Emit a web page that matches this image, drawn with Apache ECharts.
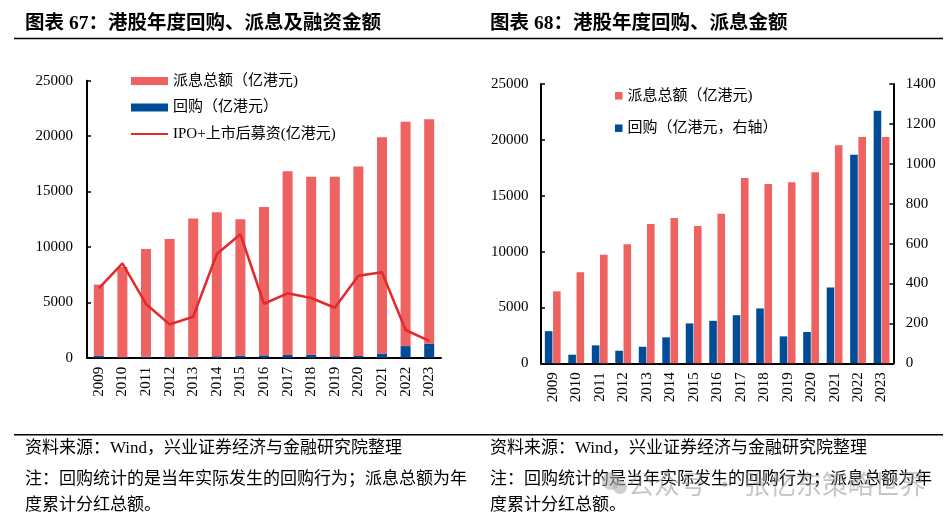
<!DOCTYPE html>
<html>
<head>
<meta charset="utf-8">
<script src="https://cdn.jsdelivr.net/npm/echarts@6/dist/echarts.min.js"></script>
<style>
html,body{margin:0;padding:0;background:#fff;}
#c{width:952px;height:523px;}
</style>
</head>
<body>
<div id="c"></div>
<script>
// ---- data ----
var years = ['2009','2010','2011','2012','2013','2014','2015','2016','2017','2018','2019','2020','2021','2022','2023'];
var dividend = [6440, 8140, 9720, 10650, 12470, 13000, 12290, 13390, 16590, 16050, 16200, 17100, 19510, 20250, 20250];
var buyback = [161, 43, 90, 63, 83, 130, 200, 213, 241, 275, 135, 157, 380, 1045, 1266];
var ipo = [6260, 8520, 4850, 3010, 3700, 9360, 11140, 4870, 5810, 5390, 4510, 7400, 7710, 2500, 1510];
var leftTicks = [0, 5000, 10000, 15000, 20000, 25000];
var rightTicks = [0, 200, 400, 600, 800, 1000, 1200, 1400];

var nameDiv = '派息总额（亿港元)';
var nameBuyL = '回购（亿港元）';
var nameIpo = 'IPO+上市后募资(亿港元)';
var nameBuyR = '回购（亿港元，右轴）';

var RED = '#EF6262', BLUE = '#004C97', LINE = '#E2292C';
var SERIF = "'Liberation Serif','Noto Sans CJK SC'";

function catAxis(gi) {
  return {
    type: 'category', gridIndex: gi, data: years,
    axisLine: {lineStyle: {color: '#000', width: 2}},
    axisTick: {show: false},
    axisLabel: {rotate: 90, color: '#000', fontSize: 15, fontFamily: SERIF, margin: 9}
  };
}
function valAxis(gi, max, interval, pos, margin) {
  return {
    type: 'value', gridIndex: gi, min: 0, max: max, interval: interval, position: pos,
    axisLine: {show: true, lineStyle: {color: '#000', width: 2}},
    axisTick: {show: true, inside: true, length: 4, lineStyle: {color: '#000', width: 1.5}},
    splitLine: {show: false},
    axisLabel: {color: '#000', fontSize: 15, fontFamily: SERIF, margin: margin,
      formatter: function (v) { return String(v); }}
  };
}

var chart = echarts.init(document.getElementById('c'), null, {renderer: 'canvas'});
var txt = function (x, y, s, opt) {
  return Object.assign({type: 'text', x: x, y: y, style: Object.assign({text: s, fill: '#000', font: '17px ' + SERIF, textVerticalAlign: 'middle'}, opt || {})});
};
chart.setOption({
  animation: false,
  backgroundColor: '#fff',
  grid: [
    {left: 87, top: 80.7, width: 354, height: 277},
    {left: 541, top: 84, width: 352.3, height: 279.3}
  ],
  xAxis: [catAxis(0), catAxis(1)],
  yAxis: [
    valAxis(0, leftTicks[leftTicks.length - 1], leftTicks[1] - leftTicks[0], 'left', 14),
    valAxis(1, leftTicks[leftTicks.length - 1], leftTicks[1] - leftTicks[0], 'left', 12.5),
    valAxis(1, rightTicks[rightTicks.length - 1], rightTicks[1] - rightTicks[0], 'right', 12.5)
  ],
  legend: [
    {
      left: 125, top: 68, orient: 'vertical', itemWidth: 37, itemHeight: 8, itemGap: 10.5,
      textStyle: {color: '#000', fontSize: 15, fontFamily: SERIF, lineHeight: 16},
      data: [{name: nameDiv, icon: 'rect'}, {name: nameBuyL, icon: 'rect'},
             {name: nameIpo, itemStyle: {opacity: 0}}]
    },
    {
      left: 610, top: 82.8, orient: 'vertical', itemWidth: 7.5, itemHeight: 7.5, itemGap: 16.4,
      textStyle: {color: '#000', fontSize: 15, fontFamily: SERIF, lineHeight: 16},
      data: [{name: nameDiv, icon: 'rect'}, {name: nameBuyR, icon: 'rect'}]
    }
  ],
  series: [
    {name: nameBuyL, type: 'bar', xAxisIndex: 0, yAxisIndex: 0, stack: 'L', data: buyback, barWidth: 10, itemStyle: {color: BLUE}},
    {name: nameDiv, type: 'bar', xAxisIndex: 0, yAxisIndex: 0, stack: 'L', data: dividend, barWidth: 10, itemStyle: {color: RED}},
    {name: nameIpo, type: 'line', xAxisIndex: 0, yAxisIndex: 0, data: ipo, symbol: 'none', showSymbol: false, lineStyle: {color: LINE, width: 2.5}, itemStyle: {color: LINE}, z: 5},
    {name: nameBuyR, type: 'bar', xAxisIndex: 1, yAxisIndex: 2, data: buyback, barWidth: 7.6, barGap: '8%', itemStyle: {color: BLUE}},
    {name: nameDiv, type: 'bar', xAxisIndex: 1, yAxisIndex: 1, data: dividend, barWidth: 7.6, barGap: '8%', itemStyle: {color: RED}}
  ],
  graphic: [
    txt(25, 23.5, '图表 67：港股年度回购、派息及融资金额', {font: 'bold 19.5px ' + SERIF}),
    txt(490, 23.5, '图表 68：港股年度回购、派息金额', {font: 'bold 19.5px ' + SERIF}),
    {type: 'line', shape: {x1: 14, y1: 38.5, x2: 943, y2: 38.5}, style: {stroke: '#000', lineWidth: 1.5}},
    {type: 'line', shape: {x1: 14, y1: 434.7, x2: 943, y2: 434.7}, style: {stroke: '#000', lineWidth: 1.5}},
    txt(25, 448.3, '资料来源：Wind，兴业证券经济与金融研究院整理'),
    txt(25, 479.3, '注：回购统计的是当年实际发生的回购行为；派息总额为年'),
    txt(25, 506, '度累计分红总额。'),
    txt(490, 448.3, '资料来源：Wind，兴业证券经济与金融研究院整理'),
    txt(490, 479.3, '注：回购统计的是当年实际发生的回购行为；派息总额为年'),
    txt(490, 506, '度累计分红总额。'),
    {type: 'circle', shape: {cx: 611, cy: 481, r: 9}, style: {fill: 'rgba(170,170,170,0.55)'}, z: 100},
    {type: 'circle', shape: {cx: 620, cy: 487, r: 7}, style: {fill: 'rgba(170,170,170,0.55)'}, z: 100},
    txt(628, 484, '公众号 · 张忆东策略世界', {font: '26px "Noto Sans CJK SC"', fill: 'rgba(150,150,150,0.55)'})
  ]
});
</script>
</body>
</html>
